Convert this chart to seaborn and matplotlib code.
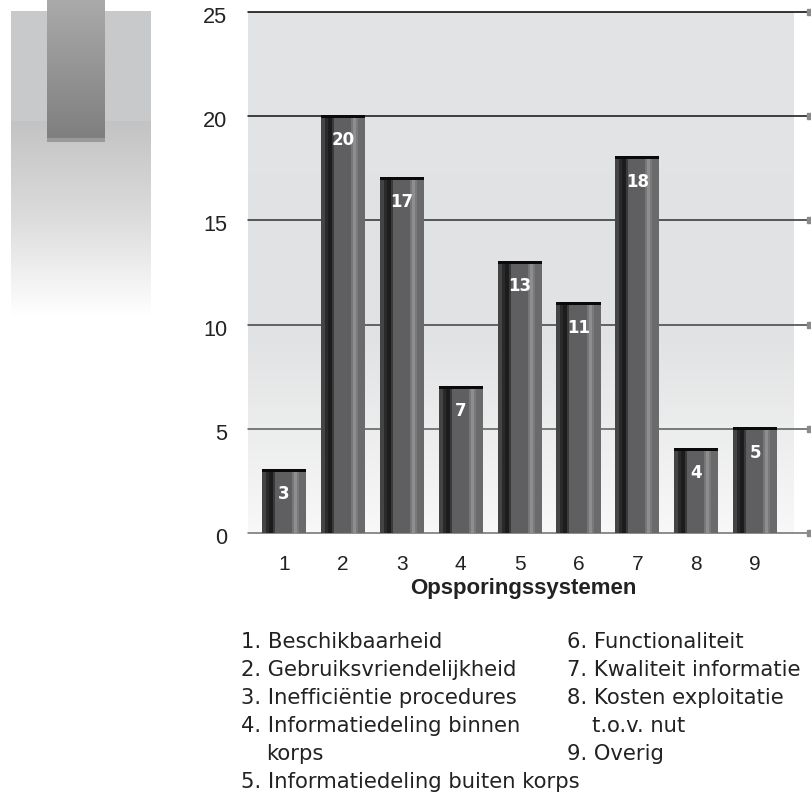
import numpy as np
import pandas as pd
import matplotlib
matplotlib.use("Agg")
import matplotlib.pyplot as plt
import seaborn as sns
from matplotlib.colors import LinearSegmentedColormap
from matplotlib.transforms import ScaledTranslation

# ---- data ----
categories = ["1", "2", "3", "4", "5", "6", "7", "8", "9"]
values = [3, 20, 17, 7, 13, 11, 18, 4, 5]
y_ticks = [0, 5, 10, 15, 20, 25]
x_label = "Opsporingssystemen"
names = ["Beschikbaarheid", "Gebruiksvriendelijkheid", "Inefficiëntie procedures",
         "Informatiedeling binnen\nkorps", "Informatiedeling buiten korps",
         "Functionaliteit", "Kwaliteit informatie", "Kosten exploitatie\nt.o.v. nut", "Overig"]

sns.set_theme(style="white")
SANS = "Liberation Sans"
WIDE = "DejaVu Sans"
plt.rcParams["font.family"] = [SANS, "DejaVu Sans"]

W, H = 812, 795
fig = plt.figure(figsize=(W / 100, H / 100), dpi=100)
fig.patch.set_facecolor("white")

# background pixel-space axes for decoration
bg = fig.add_axes([0, 0, 1, 1], zorder=0)
bg.axis("off")

def vgrad(ax, x0, x1, y0, y1, stops):
    cm = LinearSegmentedColormap.from_list("g", stops)
    grad = np.linspace(0, 1, 256).reshape(-1, 1)
    ax.imshow(grad, extent=(x0, x1, y1, y0), cmap=cm, aspect="auto",
              interpolation="bilinear", zorder=1)

# left decoration
vgrad(bg, 11, 151, 11, 121, [(0, "#c9cacc"), (1, "#c8c9cb")])
vgrad(bg, 11, 151, 121, 316, [(0, "#c3c3c3"), (0.5, "#dcdcdc"), (1, "#ffffff")])
vgrad(bg, 47, 105, 0, 138, [(0, "#aaaaaa"), (1, "#7f7f7f")])
bg.add_patch(plt.Rectangle((47, 138), 58, 4, color="#9a9a9a", zorder=2, lw=0))
# plot-area background
vgrad(bg, 248, 794, 12, 533, [(0, "#e3e4e6"), (0.62, "#e1e2e3"), (1, "#f8f8f8")])
bg.set_xlim(0, W)
bg.set_ylim(H, 0)

# main axes
L, R, T, B = 248, 810, 12, 533
ax = fig.add_axes([L / W, 1 - B / H, (R - L) / W, (B - T) / H], zorder=2)
ax.patch.set_alpha(0)

df = pd.DataFrame({"cat": categories, "val": values})
bw = 0.75
sns.barplot(data=df, x="cat", y="val", color="#5f5f61", saturation=1,
            width=bw, ax=ax, zorder=3, edgecolor="none", linewidth=0)

xs = np.arange(len(values))
px = bw / 44.0
stripes = [(0, 4, "#444446"), (4, 3, "#2a2a2b"), (7, 4, "#1c1c1d"), (11, 2, "#3a3a3b"),
           (30, 2, "#777779"), (32, 3, "#8e8e8f"), (35, 2, "#7a7a7b"), (37, 7, "#6a6a6c")]
for off, w, c in stripes:
    ax.bar(xs - bw / 2 + off * px, values, width=w * px, align="edge",
           color=c, linewidth=0, zorder=4)
cap = 0.15
ax.bar(xs, [cap] * len(values), bottom=np.array(values) - cap * 0.5, width=bw,
       color="#0a0a0a", linewidth=0, zorder=5)

for x, v in zip(xs, values):
    ax.text(x, v - 1.38, str(v), ha="center", va="baseline", color="white",
            fontsize=12, fontweight="bold", family=[WIDE], zorder=6)

x_left = -36 / 58.9
x_right = (R - 284) / 58.9
ax.set_xlim(x_left, x_right)
ax.set_ylim(0, 25)

line_cols = {25: "#000000", 20: "#111111", 15: "#2e2e2e", 10: "#404040", 5: "#5a5a5a", 0: "#6e6e6e"}
for t in y_ticks:
    ax.axhline(t, color=line_cols[t], lw=1.1, zorder=2, clip_on=False)
    ax.plot([x_right], [t], marker="s", ms=4, color="#8a8a8a", clip_on=False, zorder=7)

for s in ax.spines.values():
    s.set_visible(False)
ax.set_yticks(y_ticks)
ax.set_yticklabels([str(t) for t in y_ticks])
ax.tick_params(axis="y", length=0, pad=15, labelsize=15.7, labelcolor="#222222")
ax.tick_params(axis="x", length=0, pad=16, labelsize=15, labelcolor="#222222")
for lab in ax.get_yticklabels():
    lab.set_transform(lab.get_transform() + ScaledTranslation(0, -3 / 100, fig.dpi_scale_trans))
ax.set_ylabel("")
ax.set_xlabel("")
fig.text(523 / W, 1 - 594 / H, x_label, fontsize=16, fontweight="bold", color="#222222",
         ha="center", va="baseline")

# legend text
base0, step = 648.5, 28
cols = [241, 567]
indent = 25
fs_leg = 15.2
def place(col, idxs):
    r = 0
    for i in idxs:
        x0 = cols[col]
        lines = names[i].split("\n")
        for k, ln in enumerate(lines):
            txt = f"{i + 1}. {ln}" if k == 0 else ln
            xx = x0 if k == 0 else x0 + indent
            fig.text(xx / W, 1 - (base0 + r * step) / H, txt, fontsize=fs_leg, color="#222222",
                     va="baseline", ha="left", family=[WIDE])
            r += 1
place(0, [0, 1, 2, 3, 4])
place(1, [5, 6, 7, 8])

fig.savefig("out.png", dpi=100)
